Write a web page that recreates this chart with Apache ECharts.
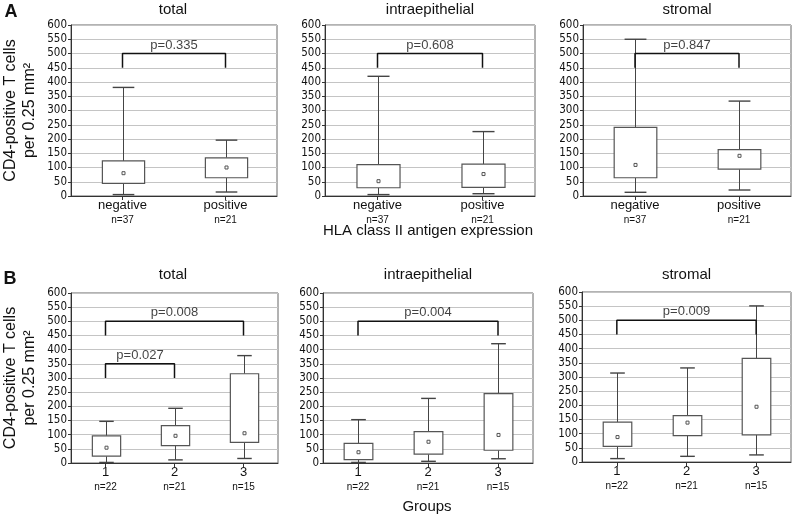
<!DOCTYPE html>
<html><head><meta charset="utf-8">
<script src="https://cdn.jsdelivr.net/npm/echarts@6/dist/echarts.min.js"></script>
<style>html,body{margin:0;padding:0;background:#fff}#c{width:793px;height:517px}</style>
</head><body><div id="c"></div>
<script>
// ---- data ----
const catsA = ['negative', 'positive'];
const nA = ['n=37', 'n=21'];
const catsB = ['1', '2', '3'];
const nB = ['n=22', 'n=21', 'n=15'];
const panelTitles = ['total', 'intraepithelial', 'stromal'];
const yMin = 0, yMax = 600, yStep = 50;

// each row: [min, Q1, median, Q3, max]
const aTotal = [[5, 44, 80, 123, 381], [14, 64, 100, 134, 196]];
const aIntra = [[5, 29, 52, 110, 420], [8, 30, 77, 112, 226]];
const aStrom = [[13, 64, 109, 241, 550], [21, 94, 141, 163, 333]];
const bTotal = [[2, 24, 54, 96, 147], [11, 61, 96, 132, 193], [16, 73, 105, 315, 379]];
const bIntra = [[2, 12, 38, 69, 153], [6, 31, 75, 111, 228], [15, 45, 99, 245, 421]];
const bStrom = [[12, 55, 88, 141, 314], [20, 93, 139, 164, 332], [25, 96, 195, 366, 551]];

// brackets: [fromIndex, toIndex, level, label]
const brATotal = [[0, 1, 500, 'p=0.335']];
const brAIntra = [[0, 1, 500, 'p=0.608']];
const brAStrom = [[0, 1, 500, 'p=0.847']];
const brBTotal = [[0, 2, 500, 'p=0.008'], [0, 1, 350, 'p=0.027']];
const brBIntra = [[0, 2, 500, 'p=0.004']];
const brBStrom = [[0, 2, 500, 'p=0.009']];
const bracketDrop = 50;

const yName = 'CD4-positive T cells\nper 0.25 mm²';
const xNameA = 'HLA class II antigen expression';
const xNameB = 'Groups';

// ---- layout ----
const grids = [
  {left: 69, top: 25, width: 208, height: 171},
  {left: 325, top: 25, width: 210, height: 171},
  {left: 583, top: 25, width: 208, height: 171},
  {left: 68, top: 293, width: 210, height: 170},
  {left: 323, top: 293, width: 210, height: 170},
  {left: 582, top: 292, width: 209, height: 170}
];
const titleGap = [15, 15, 15, 18, 18, 17];
const panels = [
  {cats: catsA, ns: nA, stats: aTotal, br: brATotal},
  {cats: catsA, ns: nA, stats: aIntra, br: brAIntra},
  {cats: catsA, ns: nA, stats: aStrom, br: brAStrom},
  {cats: catsB, ns: nB, stats: bTotal, br: brBTotal},
  {cats: catsB, ns: nB, stats: bIntra, br: brBIntra},
  {cats: catsB, ns: nB, stats: bStrom, br: brBStrom}
];

const FONT = "'Liberation Sans', Arial, sans-serif";
const NARROW = "'Liberation Sans Narrow', 'DejaVu Sans Condensed', 'Liberation Sans', sans-serif";

function renderBox(params, api) {
  const x = api.value(0);
  const lo = api.coord([x, api.value(1)]);
  const q1 = api.coord([x, api.value(2)]);
  const md = api.coord([x, api.value(3)]);
  const q3 = api.coord([x, api.value(4)]);
  const hi = api.coord([x, api.value(5)]);
  const band = api.size([1, 0])[0];
  const bw = band * 0.41, cw = band * 0.21;
  const cx = Math.round(md[0]) + 0.5;
  const ws = {stroke: '#444', lineWidth: 1};
  return {type: 'group', children: [
    {type: 'line', shape: {x1: cx, y1: lo[1], x2: cx, y2: q1[1]}, style: ws},
    {type: 'line', shape: {x1: cx, y1: q3[1], x2: cx, y2: hi[1]}, style: ws},
    {type: 'line', shape: {x1: cx - cw / 2, y1: lo[1], x2: cx + cw / 2, y2: lo[1]}, style: {stroke: '#444', lineWidth: 1.4}},
    {type: 'line', shape: {x1: cx - cw / 2, y1: hi[1], x2: cx + cw / 2, y2: hi[1]}, style: {stroke: '#444', lineWidth: 1.4}},
    {type: 'rect', shape: {x: cx - bw / 2, y: q3[1], width: bw, height: q1[1] - q3[1]},
      style: {fill: '#fff', stroke: '#555', lineWidth: 1.2}},
    {type: 'rect', shape: {x: cx - 1.5, y: md[1] - 1.5, width: 3, height: 3},
      style: {fill: '#fff', stroke: '#555', lineWidth: 1}}
  ]};
}

const option = {
  animation: false,
  backgroundColor: '#fff',
  grid: [], xAxis: [], yAxis: [], series: [], graphic: []
};

panels.forEach((p, i) => {
  const g = grids[i];
  option.grid.push(Object.assign({show: true, borderColor: '#666', borderWidth: 1, backgroundColor: '#fff'}, g));
  option.xAxis.push({
    type: 'category', gridIndex: i, data: p.cats, boundaryGap: true,
    axisLine: {onZero: false, lineStyle: {color: '#333', width: 1}},
    axisTick: {show: true, alignWithLabel: true, length: 4, lineStyle: {color: '#333'}},
    axisLabel: {
      margin: 2, color: '#111',
      formatter: (v, j) => '{a|' + v + '}\n{b|' + p.ns[j] + '}',
      rich: {
        a: {fontSize: 13, lineHeight: 15, fontFamily: FONT, color: '#111'},
        b: {fontSize: 10, lineHeight: 14, fontFamily: FONT, color: '#111'}
      }
    },
    splitLine: {show: false}
  });
  option.xAxis.push({
    type: 'value', gridIndex: i, min: -0.5, max: p.cats.length - 0.5, show: false,
    axisLine: {onZero: false}
  });
  const y = {
    type: 'value', gridIndex: i, min: yMin, max: yMax, interval: yStep,
    axisLine: {show: true, onZero: false, lineStyle: {color: '#333'}},
    axisTick: {show: true, length: 3, lineStyle: {color: '#333'}},
    axisLabel: {fontSize: 11.5, fontFamily: NARROW, color: '#111', margin: 4},
    splitLine: {show: true, lineStyle: {color: '#c4c4c4', width: 1}}
  };
  if (i === 0 || i === 3) {
    Object.assign(y, {
      name: yName, nameLocation: 'middle', nameRotate: 90, nameGap: 32,
      nameTextStyle: {fontSize: 16, lineHeight: 19, fontFamily: FONT, color: '#111'}
    });
  }
  option.yAxis.push(y);

  option.series.push({
    type: 'custom', xAxisIndex: 2 * i, yAxisIndex: i,
    data: p.stats.map((s, j) => [j].concat(s)),
    encode: {x: 0, y: [1, 2, 3, 4, 5]},
    renderItem: renderBox, silent: true, z: 3
  });

  p.br.forEach(b => {
    const [f, t, lv, lab] = b;
    option.series.push({
      type: 'line', xAxisIndex: 2 * i + 1, yAxisIndex: i,
      data: [[f, lv - bracketDrop], [f, lv], [t, lv], [t, lv - bracketDrop]],
      symbol: 'none', silent: true, z: 4,
      lineStyle: {color: '#111', width: 1.5}
    });
    option.series.push({
      type: 'scatter', xAxisIndex: 2 * i + 1, yAxisIndex: i,
      data: [[(f + t) / 2, lv]], symbolSize: 0, silent: true, z: 5,
      label: {show: true, position: 'top', distance: 2, formatter: lab,
        fontSize: 13, fontFamily: FONT, color: '#111'}
    });
  });

  option.graphic.push({
    type: 'text', x: g.left + g.width / 2, y: g.top - titleGap[i],
    style: {text: panelTitles[i % 3], font: '15px ' + FONT, fill: '#111',
      textAlign: 'center', textVerticalAlign: 'middle'}
  });
});

option.graphic.push(
  {type: 'text', x: 11, y: 12, style: {text: 'A', font: 'bold 18px ' + FONT, fill: '#111', textAlign: 'center', textVerticalAlign: 'middle'}},
  {type: 'text', x: 10, y: 279, style: {text: 'B', font: 'bold 18px ' + FONT, fill: '#111', textAlign: 'center', textVerticalAlign: 'middle'}},
  {type: 'text', x: 428, y: 231, style: {text: xNameA, font: '15px ' + FONT, fill: '#111', textAlign: 'center', textVerticalAlign: 'middle'}},
  {type: 'text', x: 427, y: 507, style: {text: xNameB, font: '15px ' + FONT, fill: '#111', textAlign: 'center', textVerticalAlign: 'middle'}}
);

const chart = echarts.init(document.getElementById('c'), null, {renderer: 'canvas'});
chart.setOption(option);
</script>
</body></html>
